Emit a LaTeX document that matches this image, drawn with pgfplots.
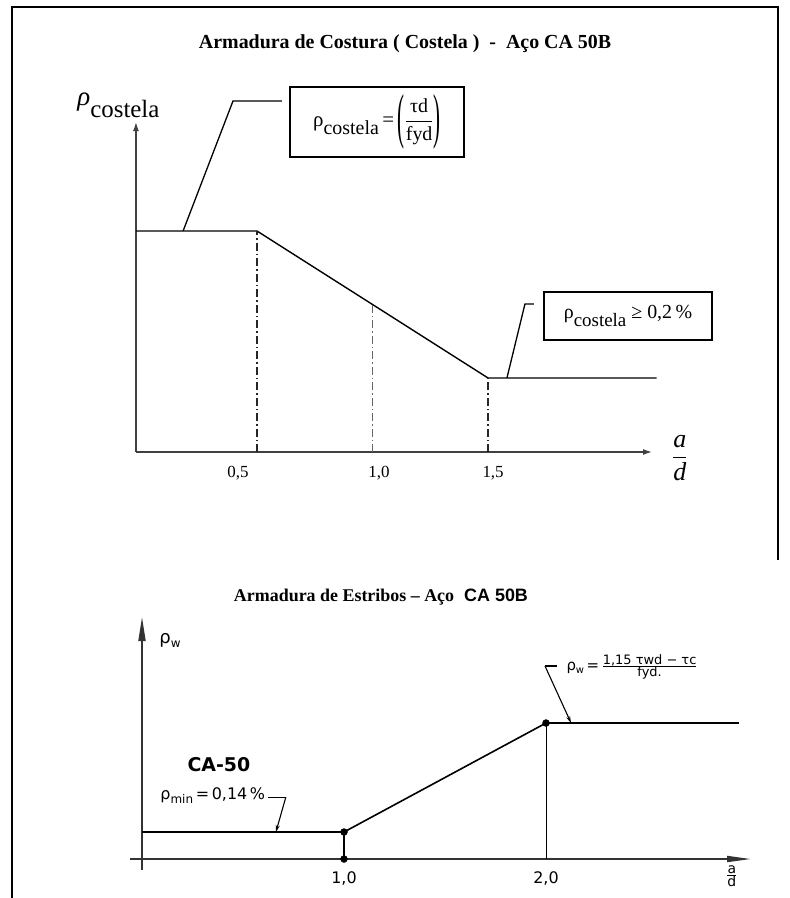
\documentclass[border=0pt]{standalone}
\usepackage{graphicx}
\usepackage{pgfplots}
\pgfplotsset{compat=1.18}
\usetikzlibrary{arrows.meta}
\usepackage{fontspec}
\setmainfont{Liberation Serif}
\newfontfamily\arial{Liberation Sans}
\newfontfamily\lettering{DejaVu Sans}
\newcommand\fs[1]{\fontsize{#1}{#1}\selectfont}
% tall parentheses made from stretched text glyphs
\newcommand\tallparen[1]{\raisebox{-10bp}{\scalebox{1}[2.9]{#1}}}

\begin{document}
\begin{tikzpicture}[x=1bp,y=1bp]
\useasboundingbox (0,0) rectangle (790,-898);
% page frame
\draw[line width=2.4bp] (12,-898) -- (12,-7) -- (778,-7) -- (778,-560);

% ---------------- Armadura de costura (costela) ----------------
\begin{axis}[
  scale only axis, hide axis, clip=false,
  width=577.5bp, height=408.85bp,
  xmin=-0.05, xmax=2.45, ymin=-0.2, ymax=1.65,
  at={(129.95bp,-496.2bp)}, anchor=south west,
]
\node at (axis cs:1.141,1.846) {\fs{20}\bfseries Armadura de Costura ( Costela )\ \ -\ \ Aço CA 50B};
% axes
\draw[line width=1.4bp, black!75, -{Latex[length=9bp,width=6bp]}]
  (axis cs:-0.024,0) -- (axis cs:2.21,0);
\draw[line width=1.4bp, black!75, -{Latex[length=9bp,width=6bp]}]
  (axis cs:-0.024,0) -- (axis cs:-0.024,1.493);
% reinforcement ratio vs a/d
\addplot[line width=1.4bp, black] coordinates {(-0.024,1) (0.5,1) (1.5,0.335) (2.23,0.335)};
% reference lines
\addplot[line width=1.1bp, black!85, dash pattern=on 8bp off 3bp on 1.5bp off 3bp] coordinates {(0.5,0) (0.5,1)};
\addplot[line width=1.1bp, black!60, dash pattern=on 8bp off 3bp on 1.5bp off 3bp] coordinates {(1.0,0) (1.0,0.6675)};
\addplot[line width=1.1bp, black!85, dash pattern=on 8bp off 3bp on 1.5bp off 3bp] coordinates {(1.5,0) (1.5,0.335)};
% tick labels
\node at (axis cs:0.418,-0.098) {\fs{17}0,5};
\node at (axis cs:1.028,-0.098) {\fs{17}1,0};
\node at (axis cs:1.522,-0.098) {\fs{17}1,5};
% axis titles
\node at (axis cs:2.331,-0.027) {\fs{26}$\displaystyle\frac{\mbox{\itshape a}}{\mbox{\itshape d}}$};
\node[anchor=base east] at (axis cs:0.093,1.566)
  {\fs{27}\textit{ρ}\raisebox{-12bp}{\fs{25}costela}};
% annotations
\draw[line width=1.3bp] (axis cs:0.608,1.588) -- (axis cs:0.396,1.588) -- (axis cs:0.18,1);
\node[draw, line width=1.3bp, minimum width=174bp, minimum height=70bp, inner sep=0pt]
  at (axis cs:1.019,1.493)
  {\fs{21}ρ\raisebox{-8bp}{\fs{20}costela}\,=\,\tallparen{(}$\displaystyle\frac{\mbox{\fs{20}τd}}{\mbox{\fs{20}fyd}}$\tallparen{)}};
\draw[line width=1.3bp] (axis cs:1.699,0.670) -- (axis cs:1.660,0.670) -- (axis cs:1.582,0.335);
\node[draw, line width=1.3bp, minimum width=168bp, minimum height=48bp, inner sep=0pt]
  at (axis cs:2.106,0.615)
  {\fs{20}ρ\raisebox{-8bp}{\fs{19}costela}\ ≥ 0,2\,\%};
\end{axis}

% ---------------- Armadura de estribos ----------------
\begin{axis}[
  scale only axis, hide axis, clip=false,
  width=646.4bp, height=308.64bp,
  xmin=-0.1, xmax=3.1, ymin=-0.2, ymax=1.4,
  at={(121.8bp,-897.58bp)}, anchor=south west,
]
\node at (axis cs:1.183,1.358) {\fs{18}\bfseries Armadura de Estribos – Aço\hspace{10bp}{\arial CA 50B}};
% axes
\draw[line width=1.8bp, black!80, -{Triangle[length=24bp,width=6bp]}]
  (axis cs:-0.059,0) -- (axis cs:3.015,0);
\draw[line width=1.8bp, black!80, -{Triangle[length=24bp,width=7bp]}]
  (axis cs:0,-0.057) -- (axis cs:0,1.2545);
% stirrup ratio vs a/d
\addplot[line width=1.6bp, black] coordinates {(0,0.14) (1,0.14) (2,0.705) (2.955,0.705)};
\addplot[line width=1.4bp, black] coordinates {(1,0) (1,0.14)};
\addplot[line width=0.9bp, black] coordinates {(2,0) (2,0.705)};
\addplot[only marks, mark=*, mark size=3.5bp, black] coordinates {(1,0) (1,0.14) (2,0.705)};
% tick labels
\node at (axis cs:1,-0.0985) {\lettering\fs{16}1,0};
\node at (axis cs:2,-0.0985) {\lettering\fs{16}2,0};
\node at (axis cs:2.92,-0.09) {\lettering\fs{14}$\frac{\mbox{a}}{\mbox{d}}$};
\node[anchor=west] at (axis cs:0.069,1.135) {\lettering\fs{18}ρ\raisebox{-4bp}{\fs{12}w}};
% annotations
\node at (axis cs:0.381,0.487) {\lettering\fs{19}\bfseries CA-50};
\node[anchor=base west] at (axis cs:0.074,0.306)
  {\lettering\fs{16}ρ\raisebox{-4bp}{\fs{12}min}\,=\,0,14\,\%};
\draw[line width=1.1bp] (axis cs:0.625,0.321) -- (axis cs:0.712,0.321);
\draw[line width=1.1bp, -{Stealth[length=7bp,width=4bp]}] (axis cs:0.712,0.321) -- (axis cs:0.663,0.14);
\draw[line width=1.1bp] (axis cs:2.054,1.0005) -- (axis cs:1.995,1.0005);
\draw[line width=1.1bp, -{Stealth[length=7bp,width=4bp]}] (axis cs:1.995,1.0005) -- (axis cs:2.124,0.705);
\node[anchor=west] at (axis cs:2.084,0.995)
  {\lettering\fs{15}ρ\raisebox{-3bp}{\fs{10}w}\,=\,$\frac{\mbox{\fs{13}1,15 τwd − τc}}{\mbox{\fs{13}fyd.}}$};
\end{axis}
\end{tikzpicture}
\end{document}
